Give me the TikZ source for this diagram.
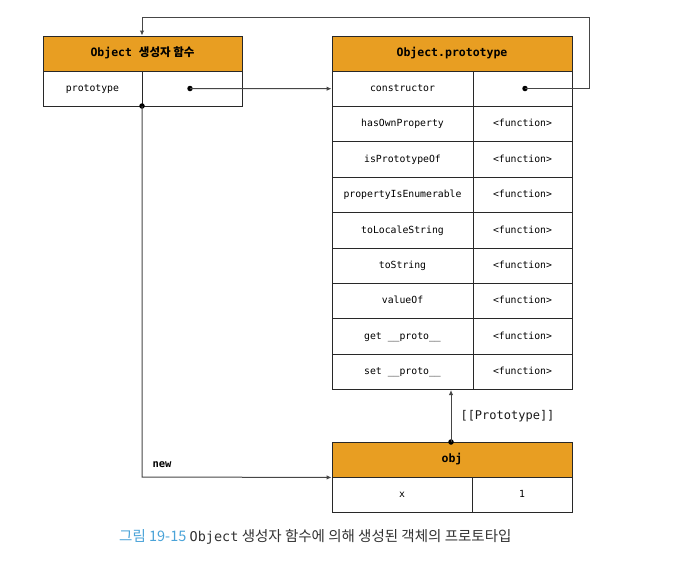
\documentclass[tikz,border=0pt]{standalone}
\usepackage{fontspec}
\setmonofont{DejaVu Sans Mono}
\newfontfamily\kr{Noto Sans CJK KR}
\usetikzlibrary{arrows.meta}
\definecolor{hdr}{RGB}{232,158,34}
\definecolor{edge}{RGB}{40,40,40}
\definecolor{wire}{RGB}{70,70,70}
\definecolor{capblue}{RGB}{74,163,216}
\definecolor{captext}{RGB}{50,50,50}
\begin{document}
\begin{tikzpicture}[x=1pt,y=-1pt,
  cell/.style={draw=edge,line width=0.9pt,fill=white,rectangle,inner sep=0pt,
    text height=1.3ex,text depth=0pt,
    font=\ttfamily\fontsize{9.8}{11}\selectfont,text=black},
  head/.style={cell,fill=hdr,font=\ttfamily\bfseries\fontsize{11.5}{13}\selectfont,text=black},
  wirel/.style={draw=wire,line width=1pt},
  arr/.style={wirel,-{Latex[length=5pt,width=4.5pt]}},
  dotc/.style={circle,fill=black,inner sep=0pt,minimum size=5.5pt}
]
\useasboundingbox (0,0) rectangle (676,563);
% left box
\node[head,minimum width=199pt,minimum height=35pt] (lh) at (142.5,53.5) {Object {\kr\bfseries 생성자 함수}};
\node[cell,minimum width=99pt,minimum height=35pt] (lk) at (92.5,88.5) {prototype};
\node[cell,minimum width=100pt,minimum height=35pt] (lv) at (192,88.5) {};
% right box
\node[head,minimum width=240pt,minimum height=35pt] (rh) at (452,53.5) {Object.prototype};
\def\rowh{35.4}
\foreach \i/\k/\v in {0/constructor/,1/hasOwnProperty/<function>,2/isPrototypeOf/<function>,3/propertyIsEnumerable/<function>,4/toLocaleString/<function>,5/toString/<function>,6/valueOf/<function>,7/get \_\_proto\_\_/<function>,8/set \_\_proto\_\_/<function>}{
  \node[cell,minimum width=141pt,minimum height=\rowh pt] (rk\i) at (402.5,{71+\rowh*\i+\rowh/2}) {\k};
  \node[cell,minimum width=99pt,minimum height=\rowh pt] (rv\i) at (522.5,{71+\rowh*\i+\rowh/2}) {\v};
}
% obj box
\node[head,minimum width=240pt,minimum height=35pt] (oh) at (452,459.5) {obj};
\node[cell,minimum width=140pt,minimum height=35pt] (ok) at (402,494.5) {x};
\node[cell,minimum width=100pt,minimum height=35pt] (ov) at (522,494.5) {1};
% connectors
\node[dotc] (d1) at (190,88.5) {};
\draw[arr] (d1.center) -- (rk0.west);
\node[dotc] (d2) at (525,88.5) {};
\coordinate (c1) at (589,88.5);
\coordinate (c2) at (589,17);
\coordinate (c3) at (142,17);
\draw[arr] (d2.center) -- (c1) -- (c2) -- (c3) -- (c3 |- lh.north);
\node[dotc] (d3) at (142,106) {};
\coordinate (c4) at (142,477);
\draw[arr] (d3.center) -- (c4) -- (oh.south west);
\node[font=\ttfamily\bfseries\fontsize{10.5}{12}\selectfont,anchor=west] (nw) at (149,465) {new};
\node[dotc] (d4) at (451,442) {};
\draw[arr] (d4.center) -- (451,390);
\node[font=\ttfamily\fontsize{12}{14}\selectfont,anchor=west,text=black!90] (pl) at (457,416) {[[Prototype]]};
% caption
\node[anchor=west,inner sep=0pt,text=captext] (cap) at (119,537)
  {{\kr\fontsize{14.5}{17}\selectfont\color{capblue}그림 19-15} {\ttfamily\fontsize{13.5}{16}\selectfont Object} {\kr\fontsize{14.5}{17}\selectfont 생성자 함수에 의해 생성된 객체의 프로토타입}};
\end{tikzpicture}
\end{document}
